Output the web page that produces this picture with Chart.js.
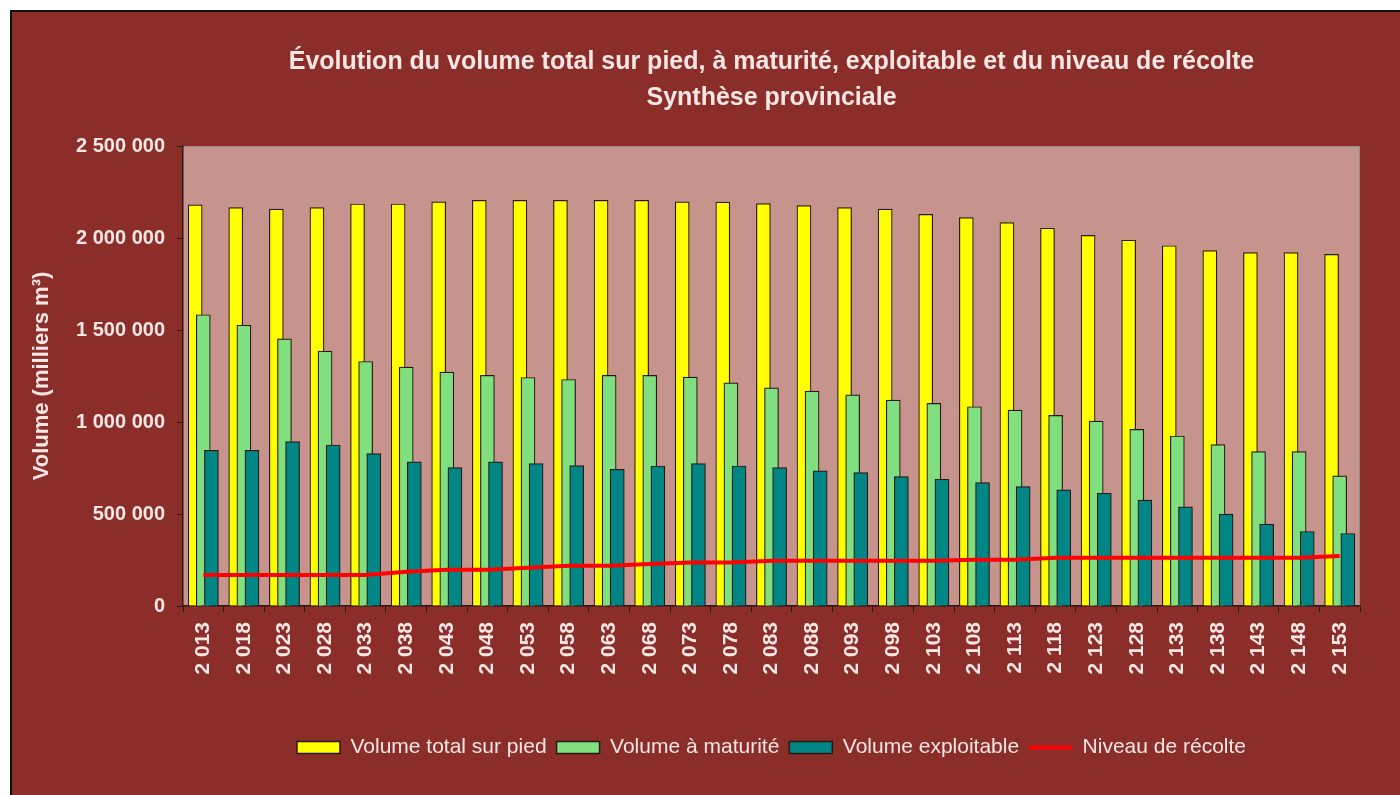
<!DOCTYPE html>
<html lang="fr">
<head>
<meta charset="utf-8">
<title>Évolution du volume</title>
<script src="https://cdn.jsdelivr.net/npm/chart.js@4.4.1/dist/chart.umd.min.js"></script>
<style>
  html, body { margin: 0; padding: 0; background: #fff; }
  body { width: 1400px; height: 795px; position: relative; overflow: hidden; }
  #frame {
    position: absolute; left: 10px; top: 10px; width: 1400px; height: 800px;
    background: #8b2e2a; border-left: 2px solid #111; border-top: 2px solid #111;
  }
  #volumeChart { position: absolute; left: 0; top: 0; }
</style>
</head>
<body>
<div id="frame"></div>
<canvas id="volumeChart" width="1400" height="795"></canvas>
<script>
const years = [2013, 2018, 2023, 2028, 2033, 2038, 2043, 2048, 2053, 2058, 2063, 2068, 2073, 2078, 2083,
  2088, 2093, 2098, 2103, 2108, 2113, 2118, 2123, 2128, 2133, 2138, 2143, 2148, 2153];

const volumeTotal = [2180000, 2165000, 2157000, 2165000, 2185000, 2185000, 2196000, 2205000, 2205000, 2205000,
  2205000, 2205000, 2196000, 2195000, 2187000, 2176000, 2165000, 2157000, 2128000, 2111000,
  2084000, 2053000, 2014000, 1988000, 1958000, 1931000, 1921000, 1921000, 1911000];

const volumeMaturite = [1583000, 1526000, 1452000, 1385000, 1329000, 1298000, 1271000, 1253000, 1242000, 1231000,
  1253000, 1253000, 1244000, 1213000, 1186000, 1168000, 1148000, 1119000, 1101000, 1083000,
  1065000, 1036000, 1005000, 960000, 924000, 877000, 839000, 839000, 707000];

const volumeExploitable = [846000, 846000, 893000, 875000, 828000, 783000, 752000, 783000, 774000, 763000,
  743000, 761000, 774000, 761000, 752000, 734000, 725000, 703000, 689000, 671000,
  649000, 631000, 613000, 575000, 539000, 499000, 445000, 405000, 394000];

const niveauRecolte = [168000, 168000, 168000, 168000, 168000, 186000, 197000, 197000, 208000, 219000,
  219000, 228000, 237000, 237000, 246000, 246000, 246000, 246000, 246000, 251000,
  251000, 262000, 262000, 262000, 262000, 262000, 262000, 262000, 272000];

const seriesLabels = ['Volume total sur pied', 'Volume à maturité', 'Volume exploitable', 'Niveau de récolte'];

const textColor = '#f6e6e4';
const axisColor = '#2a1614';

// "2 500 000" style
function spaced(n) {
  return String(n).replace(/\B(?=(\d{3})+(?!\d))/g, ' ');
}

// bars overlap like in Excel: each series shifted a bit inside its category
function barPoints(values, shift) {
  return values.map((v, i) => ({ x: i + shift, y: v }));
}

Chart.defaults.font.family = '"Liberation Sans", Arial, sans-serif';

const plotBackground = {
  id: 'plotBackground',
  beforeDraw(chart) {
    const { ctx, chartArea: a } = chart;
    ctx.save();
    ctx.fillStyle = '#c6948c';
    ctx.fillRect(a.left, a.top, a.right - a.left, a.bottom - a.top);
    ctx.strokeStyle = '#9a8a88';
    ctx.lineWidth = 1;
    ctx.beginPath();
    ctx.moveTo(a.left, a.top + 0.5);
    ctx.lineTo(a.right - 0.5, a.top + 0.5);
    ctx.lineTo(a.right - 0.5, a.bottom);
    ctx.stroke();
    ctx.restore();
  }
};

const ctx = document.getElementById('volumeChart').getContext('2d');
const volumeChart = new Chart(ctx, {
  type: 'bar',
  data: {
    labels: years.map(spaced),
    datasets: [
      {
        label: seriesLabels[0],
        data: barPoints(volumeTotal, -0.2),
        xAxisID: 'xb',
        backgroundColor: '#ffff00',
        borderColor: axisColor,
        borderWidth: 1.2,
        order: 3,
      },
      {
        label: seriesLabels[1],
        data: barPoints(volumeMaturite, 0),
        xAxisID: 'xb',
        backgroundColor: '#80e080',
        borderColor: axisColor,
        borderWidth: 1.2,
        order: 2,
      },
      {
        label: seriesLabels[2],
        data: barPoints(volumeExploitable, 0.2),
        xAxisID: 'xb',
        backgroundColor: '#008785',
        borderColor: axisColor,
        borderWidth: 1.2,
        order: 1,
      },
      {
        type: 'line',
        label: seriesLabels[3],
        data: niveauRecolte,
        xAxisID: 'x',
        borderColor: '#ff0000',
        backgroundColor: '#ff0000',
        borderWidth: 4,
        pointRadius: 0,
        tension: 0,
        fill: false,
        order: 0,
      }
    ]
  },
  options: {
    responsive: false,
    animation: false,
    devicePixelRatio: 1,
    layout: { padding: { left: 10, top: 10, right: 40, bottom: 27 } },
    datasets: {
      bar: { grouped: false, barThickness: 14 }
    },
    plugins: {
      title: {
        display: true,
        fullSize: false,
        text: ['Évolution du volume total sur pied, à maturité, exploitable et du niveau de récolte', 'Synthèse provinciale'],
        color: textColor,
        font: { size: 25, weight: 'bold', lineHeight: 36 / 25 },
        padding: { top: 34, bottom: 30 }
      },
      legend: {
        position: 'bottom',
        fullSize: false,
        labels: {
          color: textColor,
          font: { size: 21 },
          usePointStyle: true,
          pointStyleWidth: 43,
          boxHeight: 12,
          padding: 10,
          generateLabels: (chart) => chart.data.datasets.map((ds, i) => ({
            text: ds.label,
            datasetIndex: i,
            fillStyle: ds.backgroundColor,
            strokeStyle: ds.type === 'line' ? ds.borderColor : axisColor,
            lineWidth: ds.type === 'line' ? 4 : 1.5,
            pointStyle: ds.type === 'line' ? 'line' : 'rect',
            fontColor: textColor,
            hidden: false
          }))
        }
      },
      tooltip: { enabled: false }
    },
    scales: {
      x: {
        type: 'category',
        offset: true,
        grid: { offset: true, drawOnChartArea: false, tickLength: 6, color: axisColor },
        border: { color: axisColor, width: 1.5 },
        ticks: {
          color: textColor,
          font: { size: 21, weight: 'bold' },
          minRotation: 90,
          maxRotation: 90,
          autoSkip: false,
          padding: 10
        },
        afterFit: (scale) => { scale.height = 121; }
      },
      xb: {
        type: 'linear',
        axis: 'x',
        display: false,
        offset: false,
        grid: { offset: false },
        min: -0.5,
        max: years.length - 0.5
      },
      y: {
        min: 0,
        max: 2500000,
        grid: { drawOnChartArea: false, tickLength: 6, color: axisColor },
        border: { color: axisColor, width: 1.5 },
        ticks: {
          stepSize: 500000,
          color: textColor,
          font: { size: 20, weight: 'bold' },
          padding: 12,
          callback: (value) => spaced(value)
        },
        title: {
          display: true,
          text: 'Volume (milliers m³)',
          color: textColor,
          font: { size: 22, weight: 'bold' },
          padding: { top: 19, bottom: 0 }
        },
        afterFit: (scale) => { scale.width = 173; }
      }
    }
  },
  plugins: [plotBackground]
});
</script>
</body>
</html>
